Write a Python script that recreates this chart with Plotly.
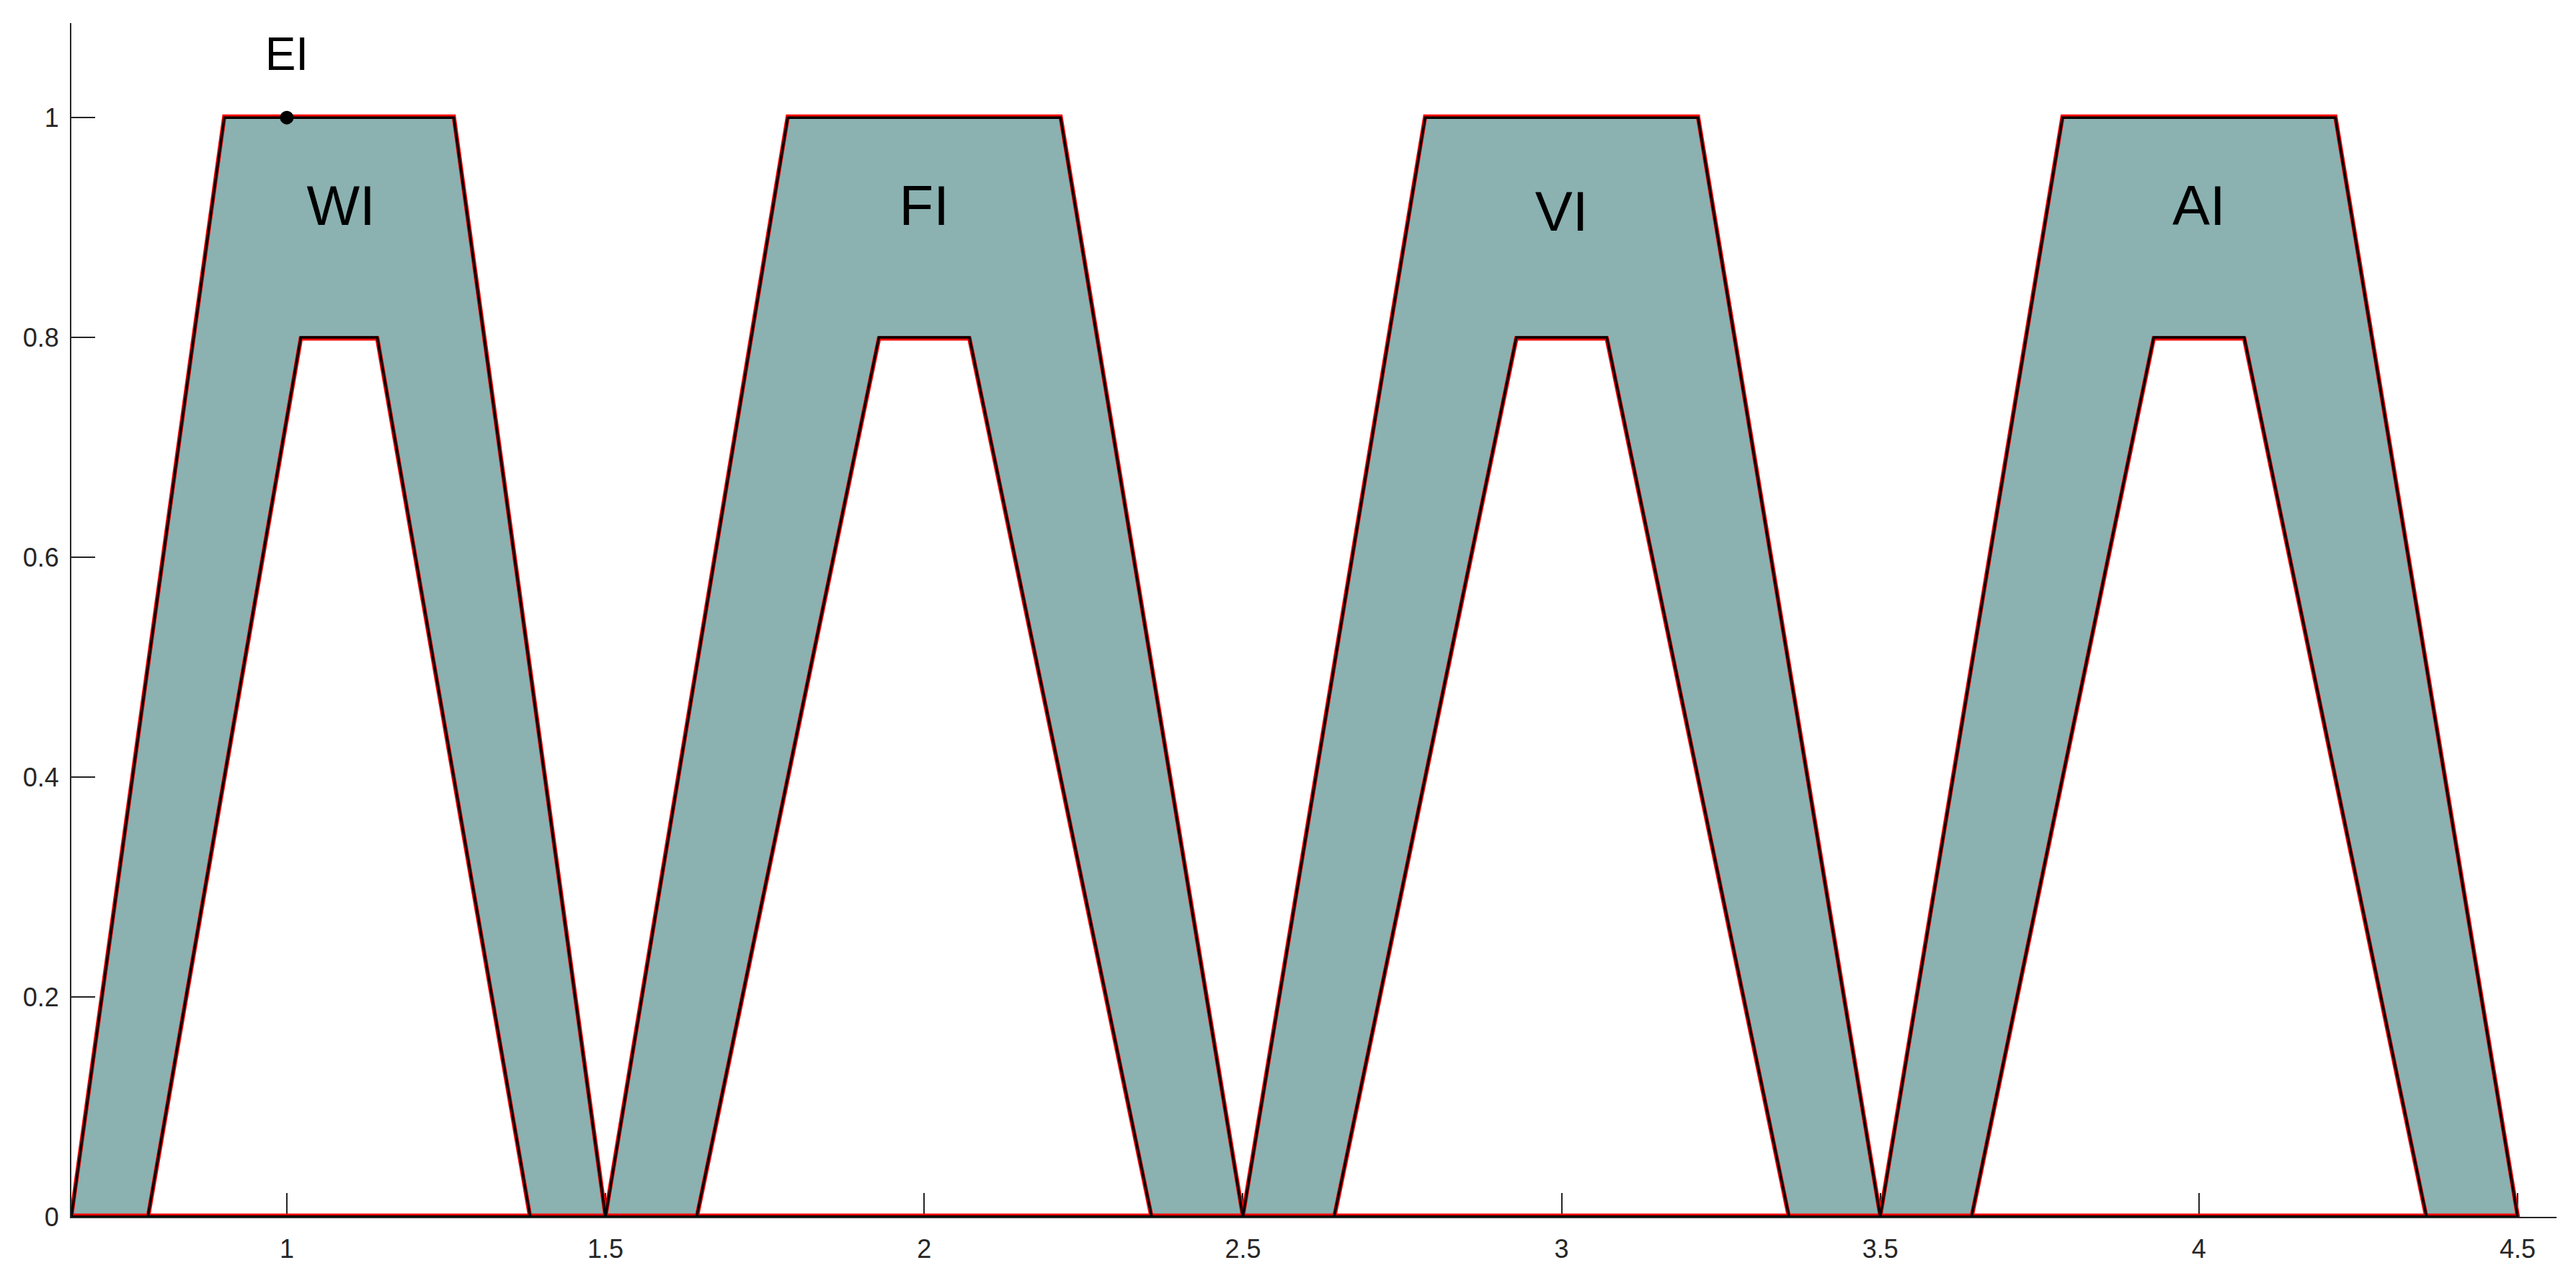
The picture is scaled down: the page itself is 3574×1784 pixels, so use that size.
import plotly.graph_objects as go

# ---- data ----
set_names = ["WI", "FI", "VI", "AI"]
umf_a = [0.662, 1.5, 2.5, 3.5]
umf_b = [0.902, 1.786, 2.786, 3.786]
umf_c = [1.262, 2.214, 3.214, 4.214]
umf_d = [1.5, 2.5, 3.5, 4.5]
umf_h = [1.0, 1.0, 1.0, 1.0]
lmf_a = [0.782, 1.643, 2.643, 3.643]
lmf_b = [1.022, 1.929, 2.929, 3.929]
lmf_c = [1.142, 2.071, 3.071, 4.071]
lmf_d = [1.382, 2.357, 3.357, 4.357]
lmf_h = [0.8, 0.8, 0.8, 0.8]
label_x = [1.085, 2.0, 3.0, 4.0]
label_y = [0.915, 0.915, 0.91, 0.915]
point_x = [1.0]
point_y = [1.0]
point_label = ["EI"]
point_label_y = [1.054]

x_ticks = [1, 1.5, 2, 2.5, 3, 3.5, 4, 4.5]
x_tick_text = ["1", "1.5", "2", "2.5", "3", "3.5", "4", "4.5"]
y_ticks = [0, 0.2, 0.4, 0.6, 0.8, 1]
y_tick_text = ["0", "0.2", "0.4", "0.6", "0.8", "1"]

x_range = [0.662, 4.561]
y_range = [0, 1.086]

# ---- style ----
FILL = "#8BB1B1"
RED = "#FF0000"
W, H = 3558, 1768
M = dict(l=91, r=19, t=24, b=88)
dy = 1.5 * (y_range[1] - y_range[0]) / (H - M["t"] - M["b"])

fig = go.Figure()

def trap(a, b, c, d, h):
    return [a, b, c, d, a], [0, h, h, 0, 0]

# filled band between upper and lower membership functions
for i in range(len(set_names)):
    xs = [umf_a[i], umf_b[i], umf_c[i], umf_d[i], lmf_d[i], lmf_c[i], lmf_b[i], lmf_a[i], umf_a[i]]
    ys = [0, umf_h[i], umf_h[i], 0, 0, lmf_h[i], lmf_h[i], 0, 0]
    fig.add_trace(go.Scatter(x=xs, y=ys, mode="lines", fill="toself",
                             fillcolor=FILL, line=dict(width=0, color=FILL),
                             hoverinfo="skip", showlegend=False))

# red outlines (slightly offset), then black outlines on top
for i in range(len(set_names)):
    xs, ys = trap(umf_a[i], umf_b[i], umf_c[i], umf_d[i], umf_h[i])
    fig.add_trace(go.Scatter(x=xs, y=[v + dy for v in ys], mode="lines",
                             line=dict(width=6, color=RED),
                             hoverinfo="skip", showlegend=False))
    xs, ys = trap(lmf_a[i], lmf_b[i], lmf_c[i], lmf_d[i], lmf_h[i])
    fig.add_trace(go.Scatter(x=xs, y=[v - dy for v in ys], mode="lines",
                             line=dict(width=6, color=RED),
                             hoverinfo="skip", showlegend=False))
for i in range(len(set_names)):
    xs, ys = trap(umf_a[i], umf_b[i], umf_c[i], umf_d[i], umf_h[i])
    fig.add_trace(go.Scatter(x=xs, y=ys, mode="lines",
                             line=dict(width=3.5, color="black"),
                             hoverinfo="skip", showlegend=False))
    xs, ys = trap(lmf_a[i], lmf_b[i], lmf_c[i], lmf_d[i], lmf_h[i])
    fig.add_trace(go.Scatter(x=xs, y=ys, mode="lines",
                             line=dict(width=3.5, color="black"),
                             hoverinfo="skip", showlegend=False))

# set labels
fig.add_trace(go.Scatter(x=label_x, y=label_y, mode="text", text=set_names,
                         textposition="middle center",
                         textfont=dict(family="Liberation Sans, Arial", size=78, color="black"),
                         hoverinfo="skip", showlegend=False))

# point EI
fig.add_trace(go.Scatter(x=point_x, y=point_y, mode="markers",
                         marker=dict(size=19, color="black"),
                         hoverinfo="skip", showlegend=False))
fig.add_trace(go.Scatter(x=point_x, y=point_label_y, mode="text", text=point_label,
                         textposition="middle center",
                         textfont=dict(family="Liberation Sans, Arial", size=64, color="black"),
                         hoverinfo="skip", showlegend=False))

tick_font = dict(family="Liberation Sans, Arial", size=36, color="#262626")

fig.update_layout(
    width=W, height=H,
    margin=M,
    paper_bgcolor="white", plot_bgcolor="white",
    showlegend=False,
    xaxis=dict(range=x_range, tickvals=x_ticks, ticktext=x_tick_text,
               showgrid=False, zeroline=False, showline=True, linecolor="#262626",
               linewidth=2, ticks="inside", ticklen=33, tickwidth=2, tickcolor="#262626",
               tickfont=tick_font, ticklabelstandoff=12, layer="below traces"),
    yaxis=dict(range=y_range, tickvals=y_ticks, ticktext=y_tick_text,
               showgrid=False, zeroline=False, showline=True, linecolor="#262626",
               linewidth=2, ticks="inside", ticklen=33, tickwidth=2, tickcolor="#262626",
               tickfont=tick_font, ticklabelstandoff=8, layer="below traces"),
)

fig.write_html("out.html")
